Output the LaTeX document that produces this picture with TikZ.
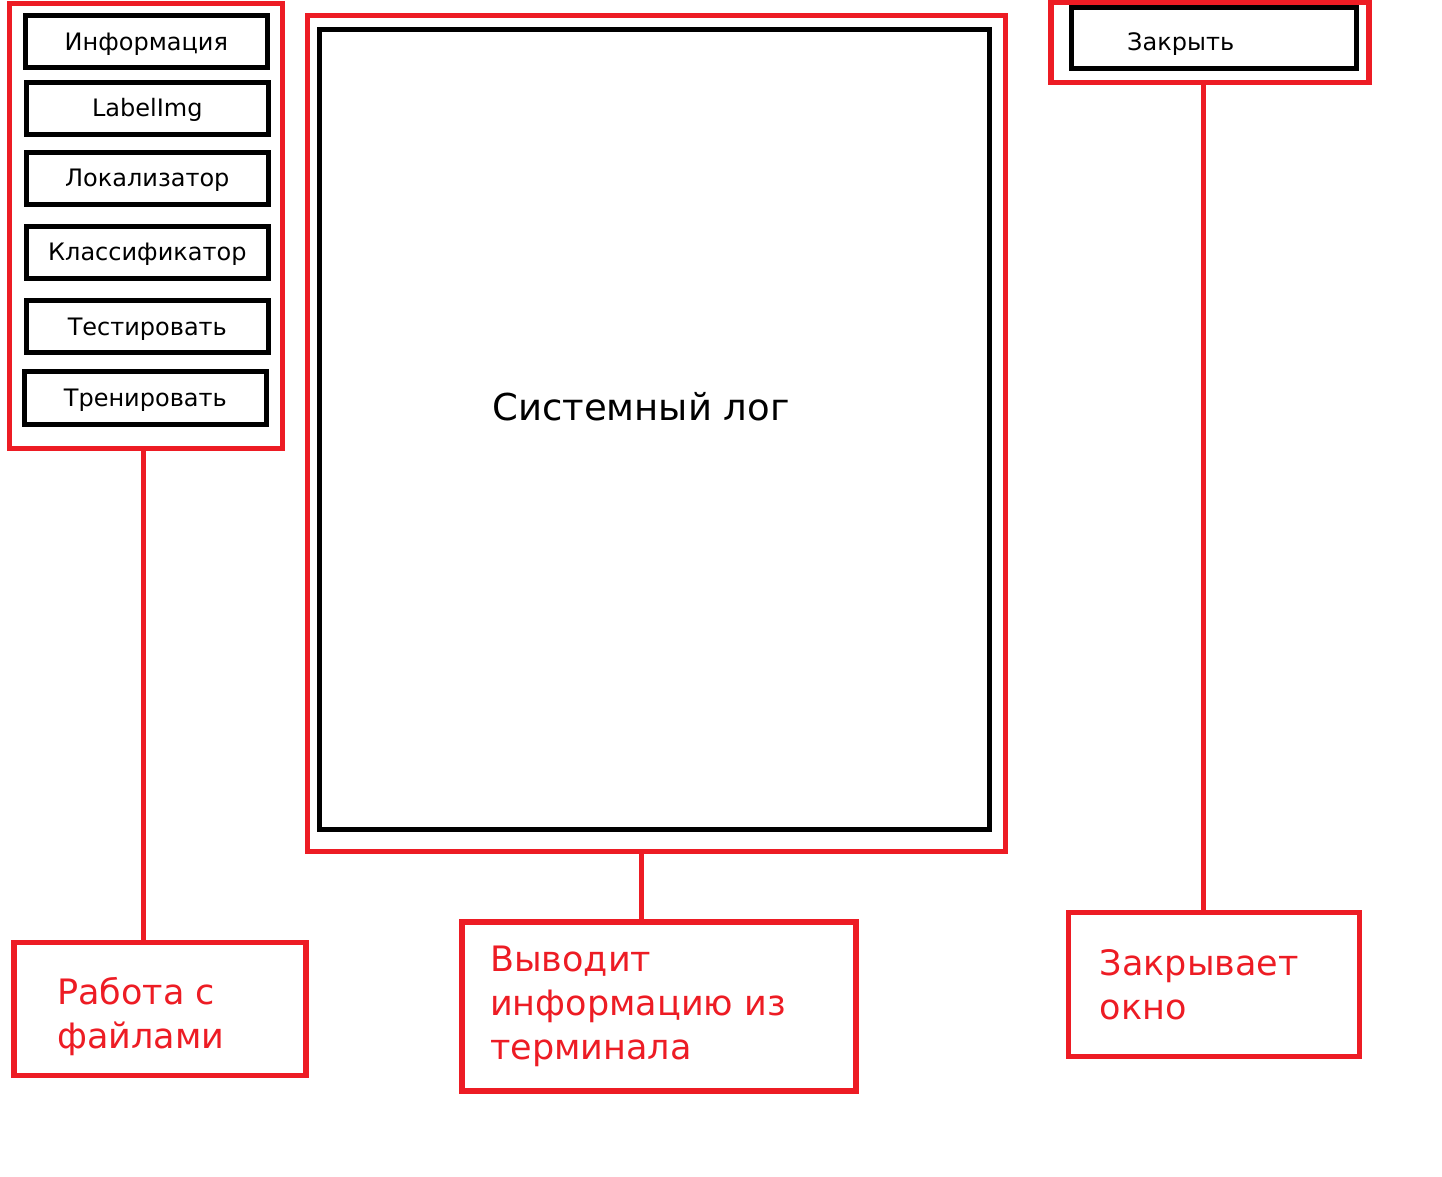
\documentclass[tikz,border=0pt]{standalone}
\usepackage{fontspec}
\setmainfont{DejaVu Sans}
\usetikzlibrary{calc, positioning}
\definecolor{markred}{HTML}{ED1C24}

\begin{document}
\begin{tikzpicture}[x=1pt, y=-1pt,
  redbox/.style={draw=markred, line width=5.3pt, inner sep=0pt, outer sep=0pt},
  blackbox/.style={draw=black, line width=5pt, inner sep=0pt, outer sep=0pt},
  button/.style={blackbox, minimum width=242pt, minimum height=52pt, text height=17pt, text depth=0pt, font=\fontsize{24}{28}\selectfont},
  notetext/.style={text=markred, font=\fontsize{35}{44}\selectfont, align=left, inner sep=0pt, anchor=north west},
  link/.style={draw=markred, line width=5.3pt}]
\useasboundingbox (0,0) rectangle (1442,1176);
\node[redbox, minimum width=273pt, minimum height=445pt] (menu) at (146.2,226) {};
\node[button] (info) at (146.3,41.7) {Информация};
\node[button] (labelimg) at (147.3,108.3) {LabelImg};
\node[button] (locator) at (147.3,178.3) {Локализатор};
\node[button] (classifier) at (147.3,252.3) {Классификатор};
\node[button] (test) at (147.3,326.7) {Тестировать};
\node[button, minimum height=52.6pt] (train) at (145.3,398) {Тренировать};
\node[redbox, minimum width=698pt, minimum height=836pt] (logframe) at (656.3,433.3) {};
\node[blackbox, minimum width=670pt, minimum height=800.2pt] (logbox) at (654.3,429.4) {};
\node[anchor=base, inner sep=0pt, font=\fontsize{37}{44}\selectfont] (logtext) at (641,420) {Системный лог};
\node[redbox, minimum width=318pt, minimum height=80.7pt] (closeframe) at (1210,42.3) {};
\node[blackbox, minimum width=285.3pt, minimum height=61.4pt] (closebtn) at (1214.3,38) {};
\node[anchor=base west, inner sep=0pt, font=\fontsize{24}{28}\selectfont] (closetext) at (1127,50) {Закрыть};
\node[redbox, minimum width=292pt, minimum height=132.8pt] (filesnote) at (160,1009.1) {};
\node[notetext] (filestext) at ([shift={(43,34)}]filesnote.north west) {Работа с\\файлами};
\node[redbox, minimum width=394pt, minimum height=169pt] (lognote) at (659,1006.5) {};
\node[notetext] (lognotetext) at ([shift={(28,24)}]lognote.north west) {Выводит\\информацию из\\терминала};
\node[redbox, minimum width=290.6pt, minimum height=144pt] (closenote) at (1214,984.7) {};
\node[notetext] (closenotetext) at ([shift={(31,37)}]closenote.north west) {Закрывает\\окно};
\coordinate (filesx) at (143.5,0);
\coordinate (logx) at (641.5,0);
\coordinate (closex) at (1203.5,0);
\draw[link] (menu.south -| filesx) -- (filesnote.north -| filesx);
\draw[link] (logframe.south -| logx) -- (lognote.north -| logx);
\draw[link] (closeframe.south -| closex) -- (closenote.north -| closex);
\end{tikzpicture}
\end{document}
